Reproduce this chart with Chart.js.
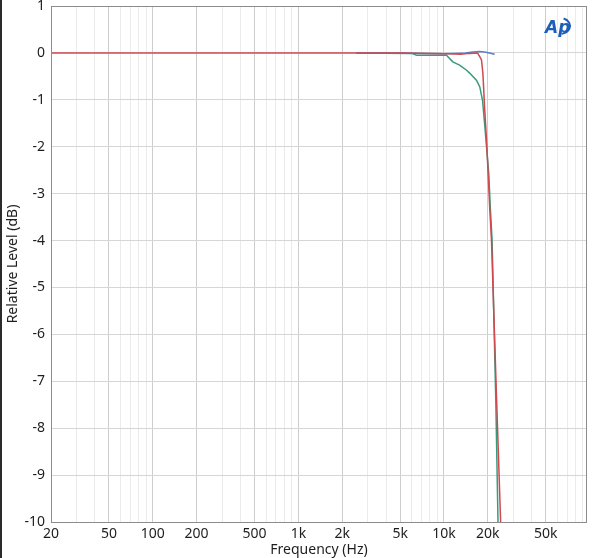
<!DOCTYPE html>
<html>
<head>
<meta charset="utf-8">
<script src="https://cdn.jsdelivr.net/npm/chart.js@4.4.1/dist/chart.umd.min.js"></script>
<style>
  html, body { margin: 0; padding: 0; background: #fff; }
</style>
</head>
<body>
<canvas id="response" width="600" height="558"></canvas>
<script>
// frequency response, relative level in dB
var redFreq   = [20, 2500, 5000, 8000, 11000, 13000, 15000, 17000, 17600, 18100, 18500, 19000, 19600, 20100, 20600, 21200, 23000, 24500, 25000];
var redLevel  = [0, 0, 0, -0.01, -0.02, -0.03, -0.01, 0, -0.08, -0.15, -0.43, -1.15, -1.86, -2.57, -3.29, -4.0, -7.42, -10, -11];

var greenFreq  = [2500, 6000, 6500, 10400, 11500, 12800, 14300, 15000, 16700, 17600, 18400, 19000, 19600, 20300, 20800, 21400, 22700, 23500, 24000];
var greenLevel = [0, -0.01, -0.05, -0.05, -0.19, -0.26, -0.37, -0.43, -0.58, -0.72, -1.01, -1.5, -2.0, -2.57, -3.29, -4.0, -7.42, -10, -11];

var blueFreq  = [2500, 5000, 8000, 10000, 12000, 14000, 15800, 17500, 19000, 20500, 22300];
var blueLevel = [0, 0, -0.01, -0.02, -0.01, 0, 0.02, 0.03, 0.02, 0, -0.03];

var freqLabels = {20: '20', 50: '50', 100: '100', 200: '200', 500: '500', 1000: '1k', 2000: '2k',
                  5000: '5k', 10000: '10k', 20000: '20k', 50000: '50k'};
var levelMin = -10, levelMax = 1;
var freqMin = 20, freqMax = 96000;

function toPoints(f, v) {
    return f.map(function (x, i) { return {x: x, y: v[i]}; });
}

var frame = {
    id: 'frame',
    beforeDraw: function (chart) {
        var ctx = chart.ctx;
        ctx.save();
        ctx.fillStyle = '#fff';
        ctx.fillRect(0, 0, chart.width, chart.height);
        ctx.restore();
    },
    afterDraw: function (chart) {
        var ctx = chart.ctx, a = chart.chartArea;
        ctx.save();
        ctx.strokeStyle = '#8c8c8c';
        ctx.lineWidth = 1;
        ctx.strokeRect(Math.round(a.left) + 0.5, Math.round(a.top) + 0.5,
                       Math.round(a.right - a.left) - 1, Math.round(a.bottom - a.top));
        // window edge
        ctx.fillStyle = '#2b2b2b';
        ctx.fillRect(0, 0, 2, chart.height);
        // AP logo
        ctx.fillStyle = '#1d5fb8';
        ctx.font = 'italic bold 17px "DejaVu Sans"';
        ctx.fillText('Ap', 545, 33);
        ctx.strokeStyle = '#1d5fb8';
        ctx.lineWidth = 2;
        ctx.beginPath();
        ctx.ellipse(560, 26, 10, 8, 0, -1.2, 1.4);
        ctx.stroke();
        ctx.restore();
    }
};

new Chart(document.getElementById('response'), {
    type: 'line',
    data: {
        datasets: [{
            data: toPoints(redFreq, redLevel),
            borderColor: '#d0494f',
            borderWidth: 1.5,
            pointRadius: 0,
            tension: 0
        }, {
            data: toPoints(blueFreq, blueLevel),
            borderColor: '#5b7ec4',
            borderWidth: 1.5,
            pointRadius: 0,
            tension: 0
        }, {
            data: toPoints(greenFreq, greenLevel),
            borderColor: '#3a9a7e',
            borderWidth: 1.5,
            pointRadius: 0,
            tension: 0
        }]
    },
    options: {
        responsive: false,
        animation: false,
        layout: { padding: { top: 6, right: 13, left: 0, bottom: 0 } },
        plugins: { legend: { display: false }, tooltip: { enabled: false } },
        scales: {
            x: {
                type: 'logarithmic',
                min: freqMin,
                max: freqMax,
                afterBuildTicks: function (scale) {
                    var ticks = [];
                    for (var d = 10; d <= 10000; d *= 10) {
                        for (var m = 1; m <= 9; m++) {
                            var v = d * m;
                            if (v >= freqMin && v <= freqMax) ticks.push({value: v});
                        }
                    }
                    scale.ticks = ticks;
                },
                afterFit: function (scale) {
                    scale.height = 36;
                    scale.paddingLeft = 0;
                    scale.paddingRight = 0;
                },
                ticks: {
                    autoSkip: false,
                    maxRotation: 0,
                    padding: 4,
                    color: '#1e1e1e',
                    font: { family: '"Noto Sans"', size: 14 },
                    callback: function (value) {
                        return freqLabels[value] || '';
                    }
                },
                grid: {
                    drawTicks: false,
                    color: function (c) {
                        return (c.tick && freqLabels[c.tick.value]) ? '#cdcdcd' : '#ebebeb';
                    }
                },
                border: { display: false },
                title: {
                    display: true,
                    text: 'Frequency (Hz)',
                    color: '#1e1e1e',
                    font: { family: '"Noto Sans"', size: 14 },
                    padding: { top: 0, bottom: 0 }
                }
            },
            y: {
                min: levelMin,
                max: levelMax,
                afterFit: function (scale) {
                    scale.width = 51;
                    scale.paddingTop = 0;
                    scale.paddingBottom = 0;
                },
                ticks: {
                    stepSize: 1,
                    padding: 6,
                    color: '#1e1e1e',
                    font: { family: '"Noto Sans"', size: 14 }
                },
                grid: { drawTicks: false, color: '#d6d6d6' },
                border: { display: false },
                title: {
                    display: true,
                    text: 'Relative Level (dB)',
                    color: '#1e1e1e',
                    font: { family: '"Noto Sans"', size: 14 },
                    padding: { top: 5, bottom: 0 }
                }
            }
        }
    },
    plugins: [frame]
});
</script>
</body>
</html>
